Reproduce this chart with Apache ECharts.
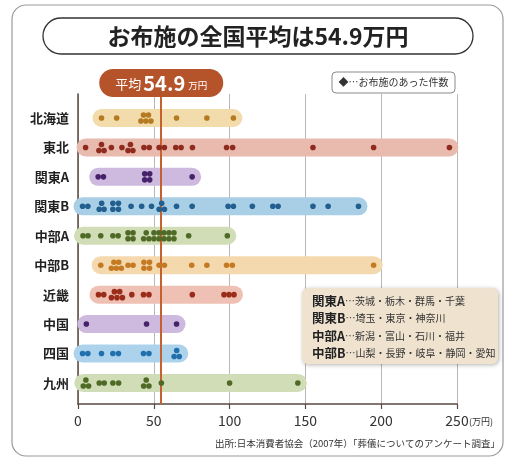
<!DOCTYPE html>
<html>
<head>
<meta charset="utf-8">
<script src="https://cdn.jsdelivr.net/npm/echarts@6/dist/echarts.min.js"></script>
<style>
  html, body { margin: 0; padding: 0; background: #fff; }
  #chart { width: 509px; height: 463px; }
</style>
</head>
<body>
<div id="chart"></div>
<script>
// Regions (top to bottom) and the offering amounts reported in each (万円)
const categories = ['北海道', '東北', '関東A', '関東B', '中部A', '中部B', '近畿', '中国', '四国', '九州'];

const hokkaido = [15.5, 25.5, 41.5, 43.2, 44.8, 46.5, 48.1, 65, 85, 102.5];
const tohoku   = [5, 13.8, 15.5, 17.2, 22, 29, 33, 34.6, 36.2, 43.5, 47, 53.5, 57, 64.5, 68, 75.5, 98, 102, 155, 195, 245];
const kantoA   = [13.3, 16.8, 44, 44, 47.3, 47.3, 75.3];
const kantoB   = [3, 6.5, 14, 15.6, 17.2, 23, 23, 26.7, 26.7, 35, 42, 48.5, 53.5, 55.2, 57, 65, 75.3, 99, 102.5, 115, 128.5, 132, 155, 165, 185];
const chubuA   = [3.3, 6.6, 15, 23, 26.5, 33, 33, 36.3, 36.3, 43.3, 45, 46.8, 50.1, 50.1, 53.4, 53.4, 56.7, 56.7, 60, 60, 63.3, 63.3, 73, 98.5];
const chubuB   = [15, 22, 23.7, 25.3, 26.9, 28.6, 33, 36.3, 43.5, 43.5, 47.2, 47.2, 53.5, 57, 75, 85, 98, 101.8, 195];
const kinki    = [13.5, 17, 22, 24, 25.7, 27.5, 29.3, 35.5, 43.2, 46.8, 75.4, 96.3, 99.6, 102.9];
const chugoku  = [5.5, 45.2, 65];
const shikoku  = [3, 6.5, 15.5, 23, 26.7, 43.2, 46.8, 63.4, 65.1, 66.8];
const kyushu   = [3.5, 5.2, 7, 14, 17.3, 23, 26.8, 43.3, 45, 46.8, 55, 100, 145];

const regionValues = [hokkaido, tohoku, kantoA, kantoB, chubuA, chubuB, kinki, chugoku, shikoku, kyushu];

const xTicks = [0, 50, 100, 150, 200, 250];
const average = 54.9;

const titleText = 'お布施の全国平均は54.9万円';
const legendText = '◆…お布施のあった件数';
const sourceText = '出所:日本消費者協会（2007年）「葬儀についてのアンケート調査」';
const regionNotes = [
  ['関東A', '茨城・栃木・群馬・千葉'],
  ['関東B', '埼玉・東京・神奈川'],
  ['中部A', '新潟・富山・石川・福井'],
  ['中部B', '山梨・長野・岐阜・静岡・愛知']
];

// Styling
const FONT = '"Noto Sans CJK JP", "Noto Sans", sans-serif';
const barColors = ['#f2dcab', '#e9baae', '#cfbadf', '#a9cfe7', '#d0ddb6', '#f4d8ae', '#efc1b4', '#cfbadf', '#add3ec', '#d0ddb6'];
const dotColors = ['#b57a22', '#8e2a1e', '#46226a', '#225f8f', '#4f6a26', '#c47a22', '#9a2c1a', '#46226a', '#226fae', '#4f6a26'];
const AXIS = '#5a4a42';
const DOT_R = 2.8;
const LANE_PX = 3;
const GAP = 2.9; // closest spacing (in 万円) before dots stack

// Dots that would overlap are stacked in a second row; clustered dots
// are centred on the band, isolated ones sit on its midline.
function dodge(values) {
  const sorted = values.slice().sort((a, b) => a - b);
  let last0 = -Infinity;
  const placed = sorted.map(v => {
    let lane;
    if (v - last0 >= GAP) { lane = 0; last0 = v; }
    else { lane = 1; }
    return { v, lane };
  });
  return placed.map(p => {
    if (p.lane === 1) return [p.v, -1];
    const stacked = placed.some(q => q.lane === 1 && Math.abs(q.v - p.v) < GAP);
    return [p.v, stacked ? 1 : 0];
  });
}

const dotData = [];
regionValues.forEach((vals, row) => {
  dodge(vals).forEach(([v, shift]) => dotData.push([v, row, shift]));
});

const bandSeries = regionValues.map((vals, row) => ({
  type: 'line',
  silent: true,
  symbol: 'none',
  z: 2,
  data: [[Math.min(...vals), row], [Math.max(...vals), row]],
  lineStyle: { width: 18, color: barColors[row], cap: 'round' }
}));

const chart = echarts.init(document.getElementById('chart'), null, { renderer: 'canvas' });

chart.setOption({
  backgroundColor: '#ffffff',
  animation: false,
  textStyle: { fontFamily: FONT },
  grid: { left: 78, right: 52, top: 94, bottom: 59 },
  xAxis: {
    type: 'value',
    min: xTicks[0],
    max: xTicks[xTicks.length - 1],
    interval: 50,
    axisLine: { show: true, onZero: false, lineStyle: { color: AXIS, width: 1.5 } },
    axisTick: { show: true, length: 5, lineStyle: { color: AXIS, width: 1.2 } },
    splitLine: { show: true, lineStyle: { color: '#bdb5b0', width: 1 } },
    axisLabel: { fontSize: 14, color: '#333', margin: 10, fontFamily: FONT }
  },
  yAxis: {
    type: 'value',
    inverse: true,
    min: -0.815,
    max: 9.715,
    axisLine: { show: true, onZero: false, lineStyle: { color: AXIS, width: 1.5 } },
    axisTick: { show: false },
    splitLine: { show: false },
    axisLabel: {
      customValues: categories.map((_, i) => i),
      formatter: v => categories[Math.round(v)] || '',
      fontSize: 13,
      fontWeight: 'bold',
      color: '#222',
      margin: 9,
      fontFamily: FONT
    }
  },
  series: bandSeries.concat([
    {
      type: 'custom',
      silent: true,
      z: 5,
      data: dotData,
      encode: { x: 0, y: 1 },
      renderItem: (params, api) => {
        const p = api.coord([api.value(0), api.value(1)]);
        const row = api.value(1);
        return {
          type: 'circle',
          shape: { cx: p[0], cy: p[1] + api.value(2) * LANE_PX, r: DOT_R },
          style: { fill: dotColors[row] }
        };
      },
      markLine: {
        silent: true,
        symbol: 'none',
        label: { show: false },
        lineStyle: { color: '#c5612e', width: 2, type: 'solid' },
        data: [{ xAxis: average }]
      }
    }
  ])
});

// Annotations placed from the axis scale
const avgX = chart.convertToPixel({ gridIndex: 0 }, [average, 0])[0];
const endX = chart.convertToPixel({ gridIndex: 0 }, [xTicks[xTicks.length - 1], 0])[0];

const noteLines = regionNotes.map((n, i) => ({
  type: 'text',
  z: 101,
  style: {
    x: 312, y: 301 + i * 17.5,
    verticalAlign: 'middle',
    text: '{b|' + n[0] + '}{n|…' + n[1] + '}',
    rich: {
      b: { fontSize: 12.5, fontWeight: 'bold', fill: '#222', fontFamily: FONT },
      n: { fontSize: 10, fill: '#333', fontFamily: FONT }
    }
  }
}));

chart.setOption({
  graphic: [
    {
      type: 'rect', z: -1, silent: true,
      shape: { x: 12, y: 5, width: 491, height: 451, r: 14 },
      style: { fill: 'none', stroke: '#9a9a9a', lineWidth: 1.2 }
    },
    {
      type: 'rect', silent: true,
      shape: { x: 43, y: 18, width: 430, height: 36, r: 18 },
      style: { fill: 'none', stroke: '#333', lineWidth: 1.3 }
    },
    {
      type: 'text', silent: true,
      style: {
        x: 258, y: 36, text: titleText, align: 'center', verticalAlign: 'middle',
        fontSize: 23, fontWeight: 'bold', fill: '#222', fontFamily: FONT
      }
    },
    {
      type: 'rect', silent: true, z: 100,
      shape: { x: 332, y: 72, width: 123, height: 21, r: 4 },
      style: { fill: '#fff', stroke: '#8a8a8a', lineWidth: 1 }
    },
    {
      type: 'text', silent: true, z: 101,
      style: {
        x: 393.5, y: 82.5, text: legendText, align: 'center', verticalAlign: 'middle',
        fontSize: 10, fill: '#333', fontFamily: FONT
      }
    },
    {
      type: 'rect', silent: true, z: 100,
      shape: { x: 302, y: 288, width: 196, height: 76, r: 6 },
      style: {
        fill: '#efe3d0', shadowBlur: 4, shadowColor: 'rgba(0,0,0,0.3)',
        shadowOffsetX: 1, shadowOffsetY: 1
      }
    }
  ].concat(noteLines).concat([
    {
      type: 'rect', silent: true, z: 100,
      shape: { x: avgX - 62, y: 69, width: 124, height: 28, r: 14 },
      style: { fill: '#b5532b' }
    },
    {
      type: 'text', silent: true, z: 101,
      style: {
        x: avgX, y: 83, align: 'center', verticalAlign: 'middle',
        text: '{a|平均}{b|' + average + '}{c|万円}',
        rich: {
          a: { fontSize: 13, fill: '#fff', fontFamily: FONT, padding: [2, 2, 0, 0] },
          b: { fontSize: 20, fontWeight: 'bold', fill: '#fff', fontFamily: FONT },
          c: { fontSize: 9.5, fill: '#fff', fontFamily: FONT, padding: [4, 0, 0, 3] }
        }
      }
    },
    {
      type: 'text', silent: true,
      style: {
        x: endX + 12, y: 422, text: '(万円)', align: 'left', verticalAlign: 'middle',
        fontSize: 9, fill: '#333', fontFamily: FONT
      }
    },
    {
      type: 'text', silent: true,
      style: {
        x: 500, y: 443, text: sourceText, align: 'right', verticalAlign: 'middle',
        fontSize: 9.5, fill: '#333', fontFamily: FONT
      }
    }
  ])
});
</script>
</body>
</html>
